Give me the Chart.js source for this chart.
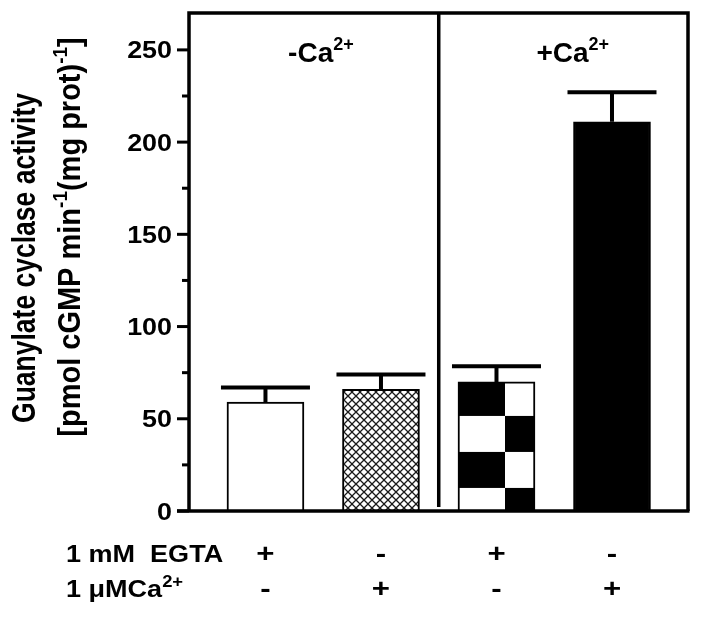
<!DOCTYPE html>
<html>
<head>
<meta charset="utf-8">
<script src="https://cdn.jsdelivr.net/npm/chart.js@4.4.0/dist/chart.umd.min.js"></script>
<style>
  html, body { margin: 0; padding: 0; background: #fff; }
  #wrap { width: 701px; height: 619px; }
</style>
</head>
<body>
<div id="wrap"><canvas id="chart" width="701" height="619"></canvas></div>
<script>
// data
const barPositions = [0, 1, 2, 3];
const activity = [59, 66, 70, 211];
const activityErr = [8, 8, 8.5, 16];
const egtaSigns = ['+', '-', '+', '-'];
const caSigns = ['-', '+', '-', '+'];
const yMajorTicks = [0, 50, 100, 150, 200, 250];
const yMinorTicks = [25, 75, 125, 175, 225];
const groupLabels = [{ pos: 0.48, text: '-Ca' }, { pos: 2.66, text: '+Ca' }];
const groupDivider = 1.5;

const FONT = '"Liberation Sans", Arial, sans-serif';

const canvas = document.getElementById('chart');
const ctx = canvas.getContext('2d');

const makeCrossHatch = () => {
  const c = document.createElement('canvas');
  c.width = 8; c.height = 8;
  const g = c.getContext('2d');
  g.fillStyle = '#fff';
  g.fillRect(0, 0, 8, 8);
  g.strokeStyle = '#1a1a1a';
  g.lineWidth = 1.3;
  g.beginPath();
  g.moveTo(-1, -1); g.lineTo(9, 9);
  g.moveTo(9, -1); g.lineTo(-1, 9);
  g.stroke();
  return ctx.createPattern(c, 'repeat');
};

const makeChecker = () => {
  const c = document.createElement('canvas');
  c.width = 94; c.height = 72;
  const g = c.getContext('2d');
  g.fillStyle = '#fff';
  g.fillRect(0, 0, 94, 72);
  g.fillStyle = '#000';
  g.fillRect(0, 0, 47, 36);
  g.fillRect(47, 36, 47, 36);
  return ctx.createPattern(c, 'repeat');
};

const checker = makeChecker();
const fills = ['#ffffff', makeCrossHatch(), checker, '#000000'];

// draws text runs with superscripts, optionally stretched horizontally and rotated
const drawRuns = (runs, x, y, size, opts = {}) => {
  const sx = opts.sx || 1;
  const supSize = Math.round(size * 0.66);
  ctx.save();
  ctx.translate(x, y);
  ctx.scale(sx, 1);
  if (opts.rotate) ctx.rotate(-Math.PI / 2);
  ctx.fillStyle = '#000';
  ctx.textBaseline = 'alphabetic';
  ctx.textAlign = 'left';
  let total = 0;
  runs.forEach(r => {
    ctx.font = `bold ${r.sup ? supSize : size}px ${FONT}`;
    total += ctx.measureText(r.t).width;
  });
  let cx = opts.align === 'center' ? -total / 2 : 0;
  runs.forEach(r => {
    ctx.font = `bold ${r.sup ? supSize : size}px ${FONT}`;
    ctx.fillText(r.t, cx, r.sup ? -size * 0.42 : 0);
    cx += ctx.measureText(r.t).width;
  });
  ctx.restore();
};

const decorations = {
  id: 'decorations',
  beforeDatasetsDraw(chart) {
    const bar = chart.getDatasetMeta(0).data[2];
    if (bar) checker.setTransform(new DOMMatrix().translate(bar.x - bar.width / 2, bar.y - 2));
  },
  afterDatasetsDraw(chart) {
    const { ctx: c, chartArea: a, scales: { x, y } } = chart;
    const meta = chart.getDatasetMeta(0);
    c.save();
    c.strokeStyle = '#000';
    c.lineCap = 'butt';

    // error bars (upper only)
    c.lineWidth = 4;
    meta.data.forEach((bar, i) => {
      const top = y.getPixelForValue(activity[i]);
      const cap = y.getPixelForValue(activity[i] + activityErr[i]);
      c.beginPath();
      c.moveTo(bar.x, top);
      c.lineTo(bar.x, cap);
      c.moveTo(bar.x - 44.5, cap);
      c.lineTo(bar.x + 44.5, cap);
      c.stroke();
    });

    // frame
    c.lineWidth = 3.5;
    c.beginPath();
    c.moveTo(a.left, a.bottom);
    c.lineTo(a.left, a.top);
    c.lineTo(a.right, a.top);
    c.lineTo(a.right, a.bottom);
    c.stroke();
    c.beginPath();
    c.moveTo(a.left - 12, a.bottom);
    c.lineTo(a.right + 1.5, a.bottom);
    c.stroke();

    // group divider
    const dx = x.getPixelForValue(groupDivider);
    c.beginPath();
    c.moveTo(dx, a.top);
    c.lineTo(dx, a.bottom - 4);
    c.stroke();

    // y ticks
    c.lineWidth = 3;
    yMajorTicks.forEach(v => {
      const py = y.getPixelForValue(v);
      c.beginPath(); c.moveTo(a.left - 12, py); c.lineTo(a.left, py); c.stroke();
    });
    yMinorTicks.forEach(v => {
      const py = y.getPixelForValue(v);
      c.beginPath(); c.moveTo(a.left - 7, py); c.lineTo(a.left, py); c.stroke();
    });
    c.restore();

    // tick labels
    yMajorTicks.forEach(v => {
      const py = y.getPixelForValue(v);
      ctx.save();
      ctx.translate(a.left - 17, py + 8.5);
      ctx.scale(1.12, 1);
      ctx.font = `bold 24px ${FONT}`;
      ctx.textAlign = 'right';
      ctx.fillStyle = '#000';
      ctx.fillText(String(v), 0, 0);
      ctx.restore();
    });

    // group labels
    groupLabels.forEach(g => {
      drawRuns([{ t: g.text }, { t: '2+', sup: true }], x.getPixelForValue(g.pos), 62, 28, { align: 'center' });
    });

    // y axis title
    drawRuns([{ t: 'Guanylate cyclase activity' }], 35, 258, 26.5, { rotate: true, align: 'center', sx: 1.24 });
    drawRuns([
      { t: '[pmol cGMP min' }, { t: '-1', sup: true },
      { t: '(mg prot)' }, { t: '-1', sup: true }, { t: ']' }
    ], 80, 237, 29, { rotate: true, align: 'center', sx: 1.08 });

    // condition table
    drawRuns([{ t: '1 mM  EGTA' }], 66, 562, 23.5, { sx: 1.15 });
    drawRuns([{ t: '1 \u03bcM' }, { t: 'Ca' }, { t: '2+', sup: true }], 66, 597, 23.5, { sx: 1.15 });
    meta.data.forEach((bar, i) => {
      drawRuns([{ t: egtaSigns[i] }], bar.x, 562, 26, { align: 'center', sx: 1.2 });
      drawRuns([{ t: caSigns[i] }], bar.x, 597, 26, { align: 'center', sx: 1.2 });
    });
  }
};

new Chart(canvas, {
  type: 'bar',
  data: {
    datasets: [{
      data: barPositions.map((p, i) => ({ x: p, y: activity[i] })),
      backgroundColor: fills,
      borderColor: '#000',
      borderWidth: 2,
      borderSkipped: 'start',
      barThickness: 77
    }]
  },
  options: {
    responsive: false,
    animation: false,
    events: [],
    layout: { padding: { left: 189, right: 13, top: 13, bottom: 108 } },
    scales: {
      x: { type: 'linear', min: -0.662, max: 3.658, offset: false, display: false },
      y: { type: 'linear', min: 0, max: 270, display: false }
    },
    plugins: { legend: { display: false }, tooltip: { enabled: false } }
  },
  plugins: [decorations]
});
</script>
</body>
</html>
